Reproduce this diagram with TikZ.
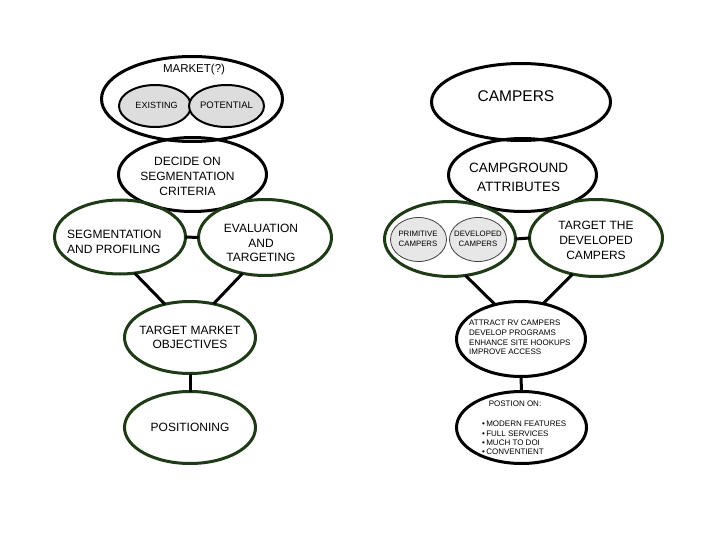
\documentclass[tikz,border=0pt]{standalone}
\usepackage{fontspec}
\setmainfont{Liberation Sans}
\usetikzlibrary{shapes.geometric}
\definecolor{dkgreen}{RGB}{30,58,22}
\definecolor{lgray}{RGB}{221,221,221}
\definecolor{lgraytwo}{RGB}{231,231,231}
\tikzset{
 base/.style={ellipse, inner sep=0pt, outer sep=0pt},
 blk/.style={base, draw=black, line width=3pt},
 grn/.style={base, draw=dkgreen, line width=3pt},
 smallgray/.style={base, draw=black, line width=2pt, fill=lgray},
 tinygray/.style={base, draw=black!75, line width=0.8pt, fill=lgraytwo},
 conn/.style={line width=3pt, black},
 txt/.style={inner sep=0pt, align=center},
}
\newcommand\fsz[2]{\fontsize{#1}{#2}\selectfont}
\begin{document}
\begin{tikzpicture}[x=1pt,y=-1pt]
\useasboundingbox[fill=white] (0,0) rectangle (720,540);
% left column
\node[blk, minimum width=181pt, minimum height=85pt] (market) at (192,99) {};
\node[smallgray, minimum width=72pt, minimum height=42pt] (existing) at (155,106) {};
\node[smallgray, minimum width=75pt, minimum height=42pt] (potential) at (226.5,106) {};
\node[blk, minimum width=148pt, minimum height=74pt] (decide) at (192.5,174.5) {};
\node[grn, minimum width=131pt, minimum height=74pt] (seg) at (120,237) {};
\node[grn, minimum width=133pt, minimum height=76pt] (eval) at (265,237.5) {};
\node[grn, minimum width=131pt, minimum height=72pt] (tmo) at (190,337.5) {};
\node[grn, minimum width=131pt, minimum height=72pt] (pos) at (190,427.5) {};
% right column
\node[blk, minimum width=179pt, minimum height=77pt] (campers) at (521,102) {};
\node[blk, minimum width=148pt, minimum height=73pt] (campground) at (522.5,175) {};
\node[grn, minimum width=131pt, minimum height=75pt] (types) at (450,239) {};
\node[tinygray, minimum width=56pt, minimum height=44pt] (primitive) at (418.5,239.5) {};
\node[tinygray, minimum width=57pt, minimum height=44pt] (developed) at (478,239.5) {};
\node[grn, minimum width=133pt, minimum height=77pt] (targetdev) at (596,238) {};
\node[blk, minimum width=129pt, minimum height=75pt] (attract) at (521,339) {};
\node[blk, minimum width=130pt, minimum height=72pt] (poson) at (521.5,427.5) {};
% connectors
\draw[conn] (seg.east) -- (eval.west);
\draw[conn] (seg.-68.5) -- (tmo.127);
\draw[conn] (eval.-122) -- (tmo.55);
\draw[conn] (tmo.south) -- (pos.north);
\draw[conn] (types.east) -- (targetdev.west);
\draw[conn] (types.-67) -- (attract.127);
\draw[conn] (targetdev.-123) -- (attract.58);
\draw[conn] (attract.south) -- (poson.north);
% texts
\node[txt, font=\fsz{11.5}{14}] (tmarket) at (194,70) {MARKET(?)};
\node[txt, font=\fsz{9}{11}] (texisting) at (156.5,105.5) {EXISTING};
\node[txt, font=\fsz{9.5}{11}] (tpotential) at (226.5,105.5) {POTENTIAL};
\node[txt, font=\fsz{12}{15}] (tdecide) at (187.5,176.5) {DECIDE ON\\SEGMENTATION\\CRITERIA};
\node[txt, align=left, anchor=west, font=\fsz{12}{15}] (tseg) at (67,242) {SEGMENTATION\\AND PROFILING};
\node[txt, font=\fsz{12}{14.5}] (teval) at (261,243) {EVALUATION\\AND\\TARGETING};
\node[txt, font=\fsz{12}{13.5}] (ttmo) at (190,337.5) {TARGET MARKET\\OBJECTIVES};
\node[txt, font=\fsz{12}{14}] (tpos) at (190,427.5) {POSITIONING};
\node[txt, font=\fsz{15.5}{18}] (tcampers) at (516,96) {CAMPERS};
\node[txt, font=\fsz{13.5}{19}] (tcampground) at (518.5,177.5) {CAMPGROUND\\ATTRIBUTES};
\node[txt, font=\fsz{7.8}{10}] (tprimitive) at (418,239) {PRIMITIVE\\CAMPERS};
\node[txt, font=\fsz{7.8}{10}] (tdeveloped) at (478,239) {DEVELOPED\\CAMPERS};
\node[txt, font=\fsz{12}{15}] (ttargetdev) at (596,240) {TARGET THE\\DEVELOPED\\CAMPERS};
\node[txt, align=left, anchor=west, font=\fsz{8}{9.7}] (tattract) at (469,337.5) {ATTRACT RV CAMPERS\\DEVELOP PROGRAMS\\ENHANCE SITE HOOKUPS\\IMPROVE ACCESS};
\node[txt, font=\fsz{8}{10}] (tposon) at (515,404) {POSTION ON:};
\node[txt, align=left, anchor=west, font=\fsz{8}{9.3}] (tbullets) at (482,438) {•\,MODERN FEATURES\\•\,FULL SERVICES\\•\,MUCH TO DOI\\•\,CONVENTIENT};
\end{tikzpicture}
\end{document}
